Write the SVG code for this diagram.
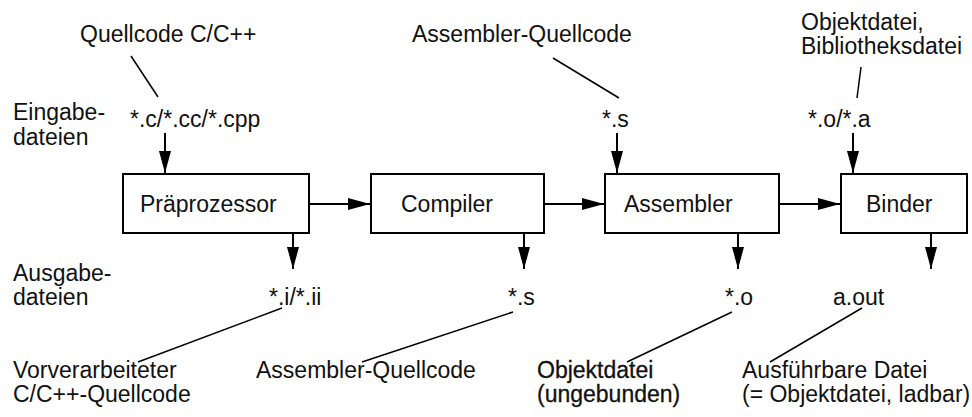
<svg xmlns="http://www.w3.org/2000/svg" width="972" height="417" viewBox="0 0 972 417">
<defs>
<style>
text{font-family:"Liberation Sans",Arial,Helvetica,sans-serif;font-size:23px;fill:#111}
.box{fill:#fff;stroke:#000;stroke-width:2}
.arr{stroke:#000;stroke-width:2;fill:none;marker-end:url(#ah)}
.ln{stroke:#000;stroke-width:1.5;fill:none}
.heavy{stroke:#111;stroke-width:0.3}
</style>
<marker id="ah" markerUnits="userSpaceOnUse" markerWidth="24" markerHeight="14" refX="22" refY="7" orient="auto">
<path d="M0,1 L22,7 L0,13 z" fill="#000"/>
</marker>
</defs>
<rect width="972" height="417" fill="#fff"/>
<g id="connectors">
<line class="arr" x1="165" y1="133" x2="165" y2="173"/>
<line class="arr" x1="617" y1="133" x2="617" y2="173"/>
<line class="arr" x1="853" y1="133" x2="853" y2="173"/>
<line class="arr" x1="309" y1="204" x2="370" y2="204"/>
<line class="arr" x1="544" y1="204" x2="604" y2="204"/>
<line class="arr" x1="779" y1="204" x2="840" y2="204"/>
<line class="arr" x1="293" y1="233" x2="293" y2="269"/>
<line class="arr" x1="524" y1="233" x2="524" y2="269"/>
<line class="arr" x1="738" y1="233" x2="738" y2="269"/>
<line class="arr" x1="931" y1="233" x2="931" y2="269"/>
<line class="ln" x1="131" y1="56" x2="158" y2="97"/>
<line class="ln" x1="553" y1="58" x2="619" y2="98"/>
<line class="ln" x1="861" y1="67" x2="857" y2="98"/>
<line class="ln" x1="282" y1="308" x2="138" y2="362"/>
<line class="ln" x1="513" y1="312" x2="362" y2="362"/>
<line class="ln" x1="732" y1="312" x2="627" y2="362"/>
<line class="ln" x1="862" y1="308" x2="770" y2="362"/>
</g>
<g id="n-praeprozessor"><rect class="box" x="123" y="174" width="186" height="59"/><text x="140" y="212">Präprozessor</text></g>
<g id="n-compiler"><rect class="box" x="371" y="174" width="173" height="59"/><text x="401" y="212">Compiler</text></g>
<g id="n-assembler"><rect class="box" x="605" y="174" width="174" height="59"/><text x="624" y="212">Assembler</text></g>
<g id="n-binder"><rect class="box" x="841" y="174" width="126" height="59"/><text x="866" y="212">Binder</text></g>
<g id="labels">
<text x="80" y="42">Quellcode C/C++</text>
<text x="13" y="120">Eingabe-</text>
<text x="13" y="145">dateien</text>
<text x="130" y="127">*.c/*.cc/*.cpp</text>
<text x="412" y="42">Assembler-Quellcode</text>
<text x="602" y="127">*.s</text>
<text x="801" y="30">Objektdatei,</text>
<text x="801" y="54">Bibliotheksdatei</text>
<text x="808" y="127">*.o/*.a</text>
<text x="13" y="281">Ausgabe-</text>
<text x="13" y="305">dateien</text>
<text x="269" y="305">*.i/*.ii</text>
<text x="508" y="305">*.s</text>
<text x="725" y="305">*.o</text>
<text x="833" y="305">a.out</text>
<text x="13" y="378">Vorverarbeiteter</text>
<text x="13" y="402">C/C++-Quellcode</text>
<text x="256" y="378">Assembler-Quellcode</text>
<text class="heavy" x="537" y="378">Objektdatei</text>
<text class="heavy" x="537" y="402">(ungebunden)</text>
<text x="742" y="378">Ausführbare Datei</text>
<text x="742" y="402">(= Objektdatei, ladbar)</text>
</g>
</svg>
